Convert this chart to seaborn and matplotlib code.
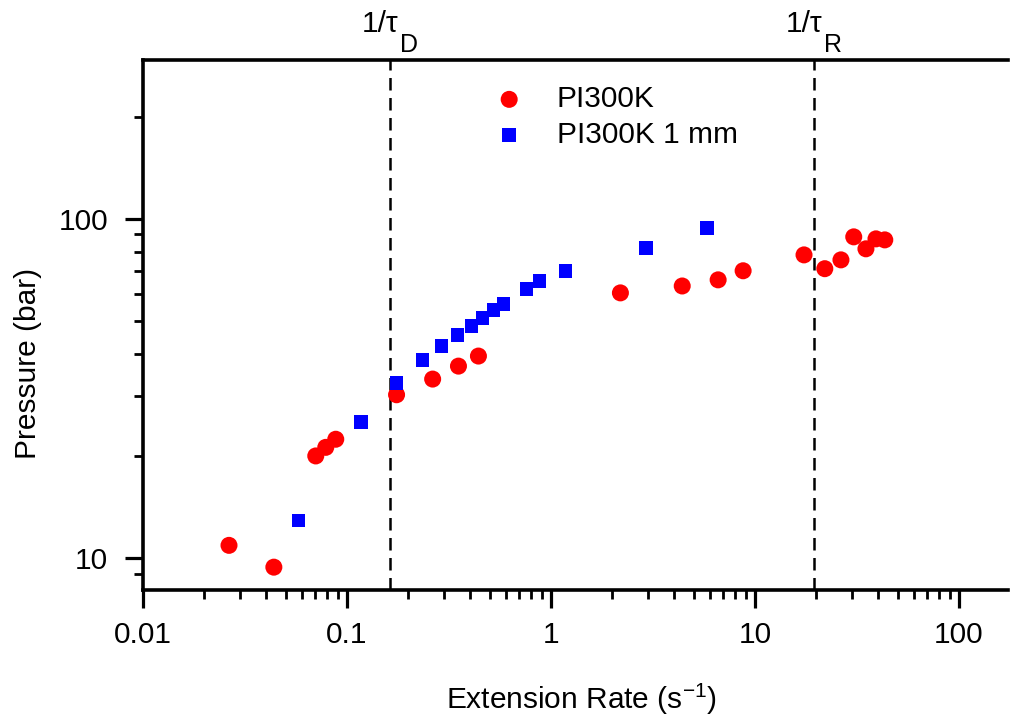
import numpy as np
import pandas as pd
import matplotlib
matplotlib.use("Agg")
import matplotlib.pyplot as plt
import matplotlib.ticker as mticker
import seaborn as sns

# data
rate_pi300k = [0.0264, 0.0438, 0.0703, 0.0787, 0.0881, 0.175, 0.263, 0.352, 0.441,
               2.19, 4.40, 6.60, 8.75, 17.4, 22.0, 26.4, 30.5, 35.0, 39.2, 43.3]
p_pi300k = [10.9, 9.4, 20.0, 21.2, 22.4, 30.3, 33.7, 36.8, 39.4,
            60.5, 63.4, 66.1, 70.3, 78.3, 71.3, 75.7, 88.5, 81.6, 87.3, 86.7]

rate_1mm = [0.058, 0.117, 0.175, 0.235, 0.291, 0.348, 0.408, 0.462, 0.523, 0.585,
            0.758, 0.877, 1.18, 2.93, 5.83]
p_1mm = [12.9, 25.2, 32.8, 38.4, 42.2, 45.5, 48.3, 51.1, 53.9, 56.1,
         62.2, 65.6, 70.3, 82.0, 94.1]

inv_tau = [0.1625, 19.5]
tau_labels = ["D", "R"]

sns.set_style("ticks")
plt.rcParams['font.family'] = ['Liberation Sans', 'DejaVu Sans']
plt.rcParams['mathtext.fontset'] = 'custom'
plt.rcParams['mathtext.rm'] = 'Liberation Sans'
plt.rcParams['mathtext.it'] = 'Liberation Sans'
plt.rcParams['text.color'] = 'black'
plt.rcParams['axes.labelcolor'] = 'black'
plt.rcParams['xtick.color'] = 'black'
plt.rcParams['ytick.color'] = 'black'
plt.rcParams['axes.edgecolor'] = 'black'

FS = 21.5

df1 = pd.DataFrame({"rate": rate_pi300k, "p": p_pi300k})
df2 = pd.DataFrame({"rate": rate_1mm, "p": p_1mm})

fig = plt.figure(figsize=(10.12, 7.22), dpi=100)
ax = fig.add_axes([143/1012, 1 - 590/722, (1008-143)/1012, (590-60)/722])

sns.scatterplot(data=df1, x="rate", y="p", ax=ax, color="#ff0000", marker="o",
                s=150, edgecolor="none", label="PI300K", zorder=3)
sns.scatterplot(data=df2, x="rate", y="p", ax=ax, color="#0000ff", marker="s",
                s=95, edgecolor="none", label="PI300K 1 mm", zorder=3)

ax.set_xscale("log")
ax.set_yscale("log")
ax.set_xlim(0.01, 174)
ax.set_ylim(8.05, 294)

# relaxation-time markers
for xv, lab in zip(inv_tau, tau_labels):
    ax.axvline(xv, color="black", ls=(0, (5, 3)), lw=1.8, zorder=1)
    ax.annotate("1/τ", xy=(xv, 1), xycoords=("data", "axes fraction"),
                xytext=(8, 28), textcoords="offset pixels",
                ha="right", va="baseline", fontsize=FS)
    ax.annotate(lab, xy=(xv, 1), xycoords=("data", "axes fraction"),
                xytext=(10, 8), textcoords="offset pixels",
                ha="left", va="baseline", fontsize=18)

ax.xaxis.set_major_locator(mticker.LogLocator(base=10, numticks=10))
ax.xaxis.set_minor_locator(mticker.LogLocator(base=10, subs=np.arange(2, 10), numticks=10))
ax.xaxis.set_major_formatter(mticker.FuncFormatter(lambda v, _: f"{v:g}"))
ax.yaxis.set_major_locator(mticker.LogLocator(base=10, numticks=10))
ax.yaxis.set_minor_locator(mticker.LogLocator(base=10, subs=np.arange(2, 10), numticks=10))
ax.yaxis.set_major_formatter(mticker.FuncFormatter(lambda v, _: f"{v:g}"))
ax.yaxis.set_minor_formatter(mticker.NullFormatter())
ax.xaxis.set_minor_formatter(mticker.NullFormatter())

ax.tick_params(which="major", direction="out", length=13, width=2.3, labelsize=FS)
ax.tick_params(which="minor", direction="out", length=6.5, width=2.0)
ax.tick_params(axis="x", which="major", pad=9)
ax.tick_params(axis="y", which="major", pad=12)

for side in ["left", "bottom", "top"]:
    ax.spines[side].set_linewidth(2.6)
ax.spines["right"].set_visible(False)

ax.set_xlabel("Extension Rate (s$^{-1}$)", fontsize=FS)
ax.set_ylabel("Pressure (bar)", fontsize=FS)
ax.xaxis.set_label_coords(0.507, -0.174)
ax.yaxis.set_label_coords(-0.117, 0.428)

ax.legend(loc="upper left", bbox_to_anchor=(0.375, 0.975), frameon=False,
          fontsize=FS, handletextpad=0.6, labelspacing=0.25, borderaxespad=0)

fig.savefig("out.png", dpi=100)
